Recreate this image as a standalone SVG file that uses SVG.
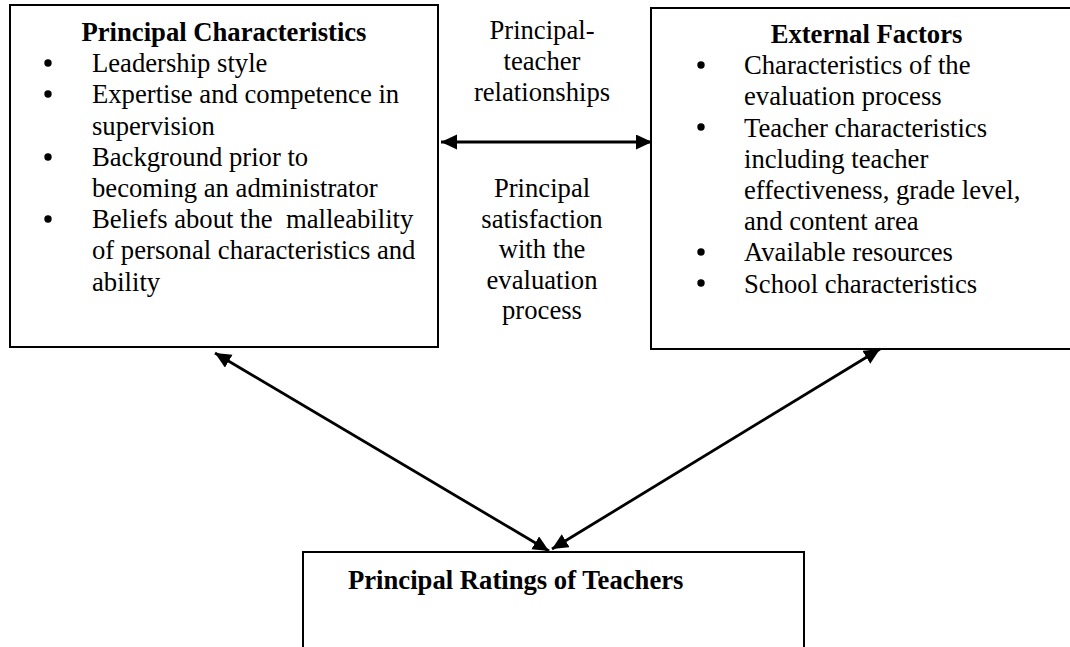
<svg xmlns="http://www.w3.org/2000/svg" width="1070" height="647" viewBox="0 0 1070 647">
  <style>
    .box { fill: #ffffff; stroke: #000000; stroke-width: 2; }
    .txt { font-family: "Liberation Serif", "Times New Roman", serif; font-size: 26.67px; fill: #000000; }
    .head { font-weight: bold; }
    .mid { text-anchor: middle; }
    .bullet { fill: #000000; }
    .link { stroke: #000000; stroke-width: 2.8; fill: none; marker-start: url(#head); marker-end: url(#head); }
  </style>
  <defs>
    <!-- solid triangular head, reversed at the start so both ends point outward -->
    <marker id="head" markerUnits="userSpaceOnUse" markerWidth="17" markerHeight="16" refX="16" refY="7.5" orient="auto-start-reverse">
      <path d="M0,0 L16,7.5 L0,15 z" fill="#000000"/>
    </marker>
  </defs>
  <rect width="1070" height="647" fill="#ffffff"/>

  <!-- Principal characteristics -->
  <g id="principal-characteristics">
    <rect class="box" x="10" y="5" width="428" height="342"/>
    <text class="txt head mid" x="224" y="41">Principal Characteristics</text>
    <circle class="bullet" cx="48" cy="63" r="3.7"/>
    <circle class="bullet" cx="48" cy="94" r="3.7"/>
    <circle class="bullet" cx="48" cy="157" r="3.7"/>
    <circle class="bullet" cx="48" cy="219" r="3.7"/>
    <text class="txt" x="92" y="72.2">Leadership style</text>
    <text class="txt" x="92" y="103.4">Expertise and competence in</text>
    <text class="txt" x="92" y="134.6">supervision</text>
    <text class="txt" x="92" y="165.8">Background prior to</text>
    <text class="txt" x="92" y="197">becoming an administrator</text>
    <text class="txt" x="92" y="228.2" xml:space="preserve">Beliefs about the  malleability</text>
    <text class="txt" x="92" y="259.4">of personal characteristics and</text>
    <text class="txt" x="92" y="290.6">ability</text>
  </g>

  <!-- External factors -->
  <g id="external-factors">
    <rect class="box" x="651" y="8" width="431" height="341"/>
    <text class="txt head mid" x="866.5" y="43">External Factors</text>
    <circle class="bullet" cx="701" cy="65" r="3.7"/>
    <circle class="bullet" cx="701" cy="127" r="3.7"/>
    <circle class="bullet" cx="701" cy="252" r="3.7"/>
    <circle class="bullet" cx="701" cy="283" r="3.7"/>
    <text class="txt" x="744" y="74.2">Characteristics of the</text>
    <text class="txt" x="744" y="105.4">evaluation process</text>
    <text class="txt" x="744" y="136.6">Teacher characteristics</text>
    <text class="txt" x="744" y="167.8">including teacher</text>
    <text class="txt" x="744" y="199">effectiveness, grade level,</text>
    <text class="txt" x="744" y="230.2">and content area</text>
    <text class="txt" x="744" y="261.4">Available resources</text>
    <text class="txt" x="744" y="292.6">School characteristics</text>
  </g>

  <!-- Principal ratings of teachers -->
  <g id="principal-ratings">
    <rect class="box" x="303" y="552" width="501" height="110"/>
    <text class="txt head" x="348" y="589">Principal Ratings of Teachers</text>
  </g>

  <!-- Labels between the two upper boxes -->
  <g id="relationship-labels">
    <text class="txt mid" x="542" y="39">Principal-</text>
    <text class="txt mid" x="542" y="70">teacher</text>
    <text class="txt mid" x="542" y="100.5">relationships</text>
    <text class="txt mid" x="542" y="197">Principal</text>
    <text class="txt mid" x="542" y="227.5">satisfaction</text>
    <text class="txt mid" x="542" y="258">with the</text>
    <text class="txt mid" x="542" y="288.5">evaluation</text>
    <text class="txt mid" x="542" y="319">process</text>
  </g>

  <!-- Two-way connectors -->
  <g id="connectors">
    <line class="link" x1="441" y1="142" x2="652" y2="142"/>
    <line class="link" x1="215" y1="353" x2="549" y2="551"/>
    <line class="link" x1="880" y1="349" x2="552" y2="549"/>
  </g>
</svg>
